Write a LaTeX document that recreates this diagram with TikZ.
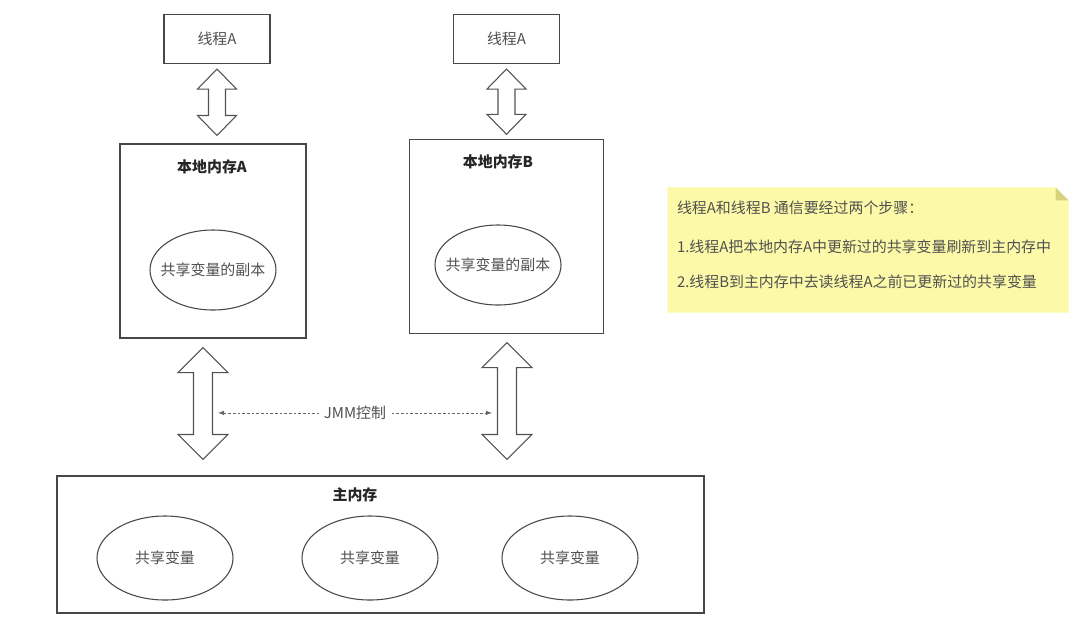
\documentclass[tikz,border=0pt]{standalone}
\usepackage{fontspec}
\setmainfont{Noto Sans CJK SC}
\usetikzlibrary{positioning,arrows,calc,shapes.geometric}
\definecolor{notefill}{RGB}{252,250,168}
\definecolor{notefold}{RGB}{214,210,126}
\definecolor{txtgray}{RGB}{80,80,80}
\newcommand{\fatarrow}[5]{%
  \draw[fat] (#1) -- ++(#3,#5) -- ++(#4-#3,0) -- ($(#2)+(#4,-#5)$) -- ++(#3-#4,0) -- (#2)
    -- ++(-#3,-#5) -- ++(#3-#4,0) -- ($(#1)+(-#4,#5)$) -- ++(#4-#3,0) -- cycle;}

\begin{document}
\begin{tikzpicture}[x=0.75pt,y=-0.75pt,line width=0.8pt,
    every node/.style={font=\fontsize{11.2pt}{13pt}\selectfont,text=txtgray},
    box/.style={draw=black!72,inner sep=0pt},
    var/.style={draw=black!72,ellipse,inner sep=0pt},
    title/.style={font=\fontsize{11.2pt}{13pt}\selectfont\bfseries,text=black!85},
    fat/.style={draw=black!68,line join=miter},
    jmm/.style={draw=black!60,line width=0.6pt,dash pattern=on 2pt off 1.5pt,latex-latex},
    notetxt/.style={anchor=west,inner sep=0pt}]
  \useasboundingbox (0,0) rectangle (1082,622);
  \node[box,minimum width=79.5pt,minimum height=36.75pt] (ta) at (217,39) {线程A};
  \node[box,minimum width=79.5pt,minimum height=36.75pt] (tb) at (506.5,39) {线程A};
  \node[box,minimum width=139.5pt,minimum height=145.5pt] (la) at (213,241) {};
  \node[box,minimum width=146pt,minimum height=145pt] (lb) at (506.5,236.5) {};
  \node[title] (lat) at (212,167) {本地内存A};
  \node[title] (lbt) at (498,162) {本地内存B};
  \node[var,minimum width=94.5pt,minimum height=60pt,label=center:共享变量的副本] (va) at (213,270) {};
  \node[var,minimum width=94.5pt,minimum height=60pt,label=center:共享变量的副本] (vb) at (498,265) {};
  \node[box,minimum width=485.25pt,minimum height=102.75pt] (main) at (380.5,544.5) {};
  \node[title] (mt) at (355,495) {主内存};
  \node[var,minimum width=102pt,minimum height=63pt] (m1) at (165,558) {共享变量};
  \node[var,minimum width=102pt,minimum height=63pt] (m2) at (370,558) {共享变量};
  \node[var,minimum width=102pt,minimum height=63pt] (m3) at (570,558) {共享变量};
  \coordinate (a1t) at ($(ta.south)+(0,5)$);
  \coordinate (a1b) at ($(a1t |- la.north)+(0,-8)$);
  \coordinate (a2t) at ($(tb.south)+(0,5)$);
  \coordinate (a2b) at ($(a2t |- lb.north)+(0,-5)$);
  \coordinate (a3t) at ($(la.south)+(-10,9)$);
  \coordinate (a3b) at ($(a3t |- main.north)+(0,-16)$);
  \coordinate (a4t) at ($(lb.south)+(0.5,9)$);
  \coordinate (a4b) at ($(a4t |- main.north)+(0,-16)$);
  \fatarrow{a1t}{a1b}{19.5}{8.5}{20}
  \fatarrow{a2t}{a2b}{19.5}{8.5}{20}
  \fatarrow{a3t}{a3b}{25}{9.5}{25}
  \fatarrow{a4t}{a4b}{25}{9.5}{25}
  \coordinate (j1) at ($(a3t)!0.584!(a3b)+(15,0)$);
  \coordinate (j2) at ($(a4t |- j1)+(-15,0)$);
  \draw[jmm] (j1) -- (j2) node[midway,fill=white,inner xsep=4pt,inner ysep=1pt] (jl) {JMM控制};
  \node[inner sep=0pt,minimum width=300pt,minimum height=93pt] (note) at (868,250) {};
  \fill[notefill] (note.north west) -- ($(note.north east)+(-13,0)$) -- ($(note.north east)+(0,13)$)
    -- (note.south east) -- (note.south west) -- cycle;
  \fill[notefold] ($(note.north east)+(-13,0)$) -- ($(note.north east)+(0,13)$) -- ($(note.north east)+(-13,13)$) -- cycle;
  \node[notetxt] (n1) at ($(note.north west)+(9,20)$) {线程A和线程B 通信要经过两个步骤：};
  \node[notetxt] (n2) at ($(n1.west)+(0,39)$) {1.线程A把本地内存A中更新过的共享变量刷新到主内存中};
  \node[notetxt] (n3) at ($(n2.west)+(0,35)$) {2.线程B到主内存中去读线程A之前已更新过的共享变量};
\end{tikzpicture}
\end{document}
